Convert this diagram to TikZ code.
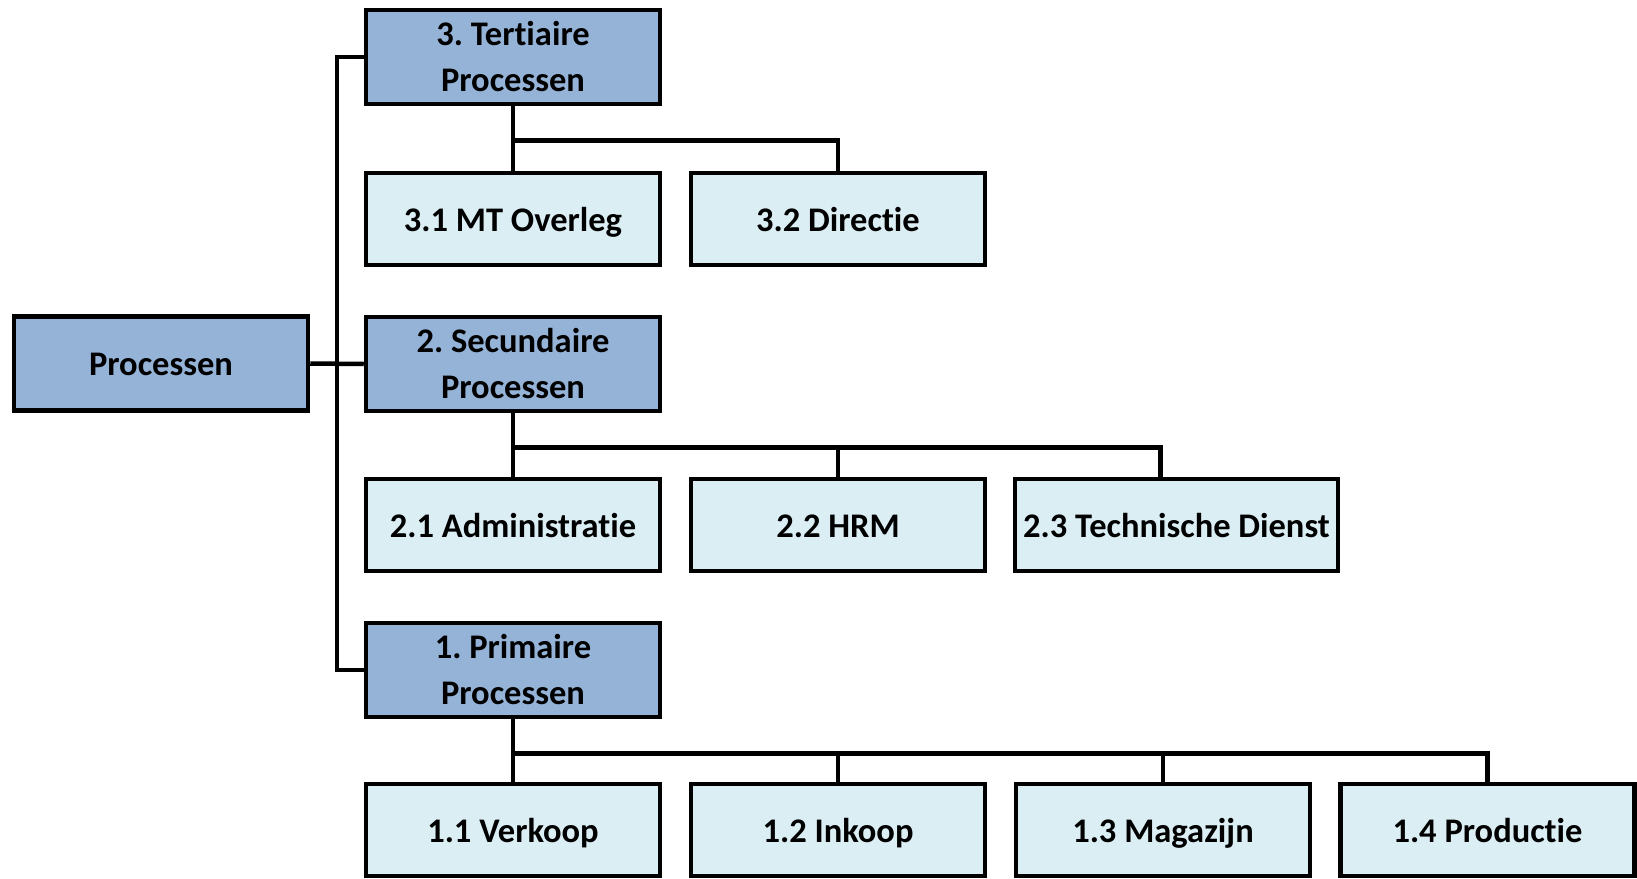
\documentclass[tikz,border=0pt]{standalone}
\usepackage{fontspec}
\setmainfont{Carlito}[Ligatures=NoCommon]
\usetikzlibrary{calc}
\definecolor{darkfill}{HTML}{95B3D7}
\definecolor{lightfill}{HTML}{DBEEF4}
\frenchspacing
\begin{document}
\begin{tikzpicture}[x=1pt,y=-1pt,
  basebox/.style={draw=black, line width=4.5pt, inner sep=0pt, align=center,
    font=\fontsize{34.5}{46}\selectfont\bfseries, text=black},
  mainbox/.style={basebox, fill=darkfill, minimum width=294pt, minimum height=94pt},
  subbox/.style={basebox, fill=lightfill, minimum width=294pt, minimum height=92pt},
  oneline/.style={text height=30pt, text depth=6pt},
  conn/.style={draw=black, line width=4.5pt}]
\useasboundingbox (0,0) rectangle (1637,878);
% nodes
\node[mainbox, oneline] (proc) at (161,363.5) {Processen};
\node[mainbox] (ter) at (513,57) {3. Tertiaire\\Processen};
\node[subbox, oneline] (d31) at (513,219) {3.1 MT Overleg};
\node[subbox, oneline] (d32) at (838,219) {3.2 Directie};
\node[mainbox] (sec) at (513,364) {2. Secundaire\\Processen};
\node[subbox, oneline] (d21) at (513,525) {2.1 Administratie};
\node[subbox, oneline] (d22) at (838,525) {2.2 HRM};
\node[subbox, oneline, minimum width=323pt] (d23) at (1176.5,525) {2.3 Technische Dienst};
\node[mainbox] (pri) at (513,670) {1. Primaire\\Processen};
\node[subbox, oneline] (d11) at (513,830) {1.1 Verkoop};
\node[subbox, oneline] (d12) at (838,830) {1.2 Inkoop};
\node[subbox, oneline] (d13) at (1163,830) {1.3 Magazijn};
\node[subbox, oneline] (d14) at (1487.5,830) {1.4 Productie};
\coordinate (trunk) at (337,0);
\coordinate (d23drop) at ($(d23.north west)+(147.5,0)$);
% connectors
\draw[conn] (ter.west) -- (ter.west -| trunk) |- (pri.west);
\draw[conn] (proc.east) -- (sec.west);
\draw[conn] (ter.south) -- (d31.north);
\draw[conn] (ter.south) -- ++(0,34) -| (d32.north);
\draw[conn] (sec.south) -- (d21.north);
\draw[conn] (sec.south) -- ++(0,34) -| (d22.north);
\draw[conn] (sec.south) -- ++(0,34) -| (d23drop);
\draw[conn] (pri.south) -- (d11.north);
\draw[conn] (pri.south) -- ++(0,34) -| (d12.north);
\draw[conn] (pri.south) -- ++(0,34) -| (d13.north);
\draw[conn] (pri.south) -- ++(0,34) -| (d14.north);
\end{tikzpicture}
\end{document}
